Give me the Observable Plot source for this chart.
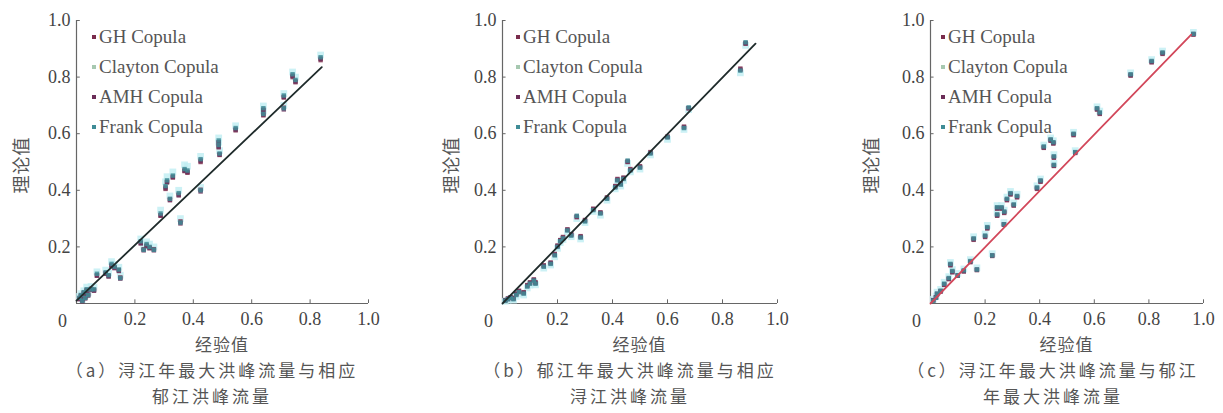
<!DOCTYPE html>
<html>
<head>
<meta charset="utf-8">
<script src="https://cdn.jsdelivr.net/npm/d3@7"></script>
<script src="https://cdn.jsdelivr.net/npm/@observablehq/plot@0.6"></script>
<style>
  html, body { margin: 0; padding: 0; background: #fff; }
  #root { position: relative; width: 1223px; height: 413px; overflow: hidden; }
  .panel { position: absolute; top: 0; }
  .lbl { position: absolute; transform: translate(-50%, -50%); white-space: nowrap; line-height: 1;
         font-family: "Noto Sans CJK SC", sans-serif; color: #555; font-size: 17px; letter-spacing: 1px; }
  .cap { letter-spacing: 3px; }
  .ylbl { transform: translate(-50%, -50%) rotate(-90deg); font-size: 18px; }
  .legend { position: absolute; font-family: "Liberation Serif", serif; font-size: 19px; color: #555; }
  .legend .row { height: 30px; line-height: 30px; display: flex; align-items: center; }
  .legend .sw { width: 4px; height: 4px; margin-right: 3px; display: inline-block; }
</style>
</head>
<body>
<div id="root"></div>
<script>
// ---------- data ----------
const seriesNames = ["GH Copula", "Clayton Copula", "AMH Copula", "Frank Copula"];
const seriesColors = ["#7a2c4c", "#a6c8b0", "#6b2d58", "#3f8c96"];
const tickValues = [0.2, 0.4, 0.6, 0.8, 1.0];

// Panel (a)
const xA = [0.01,0.015,0.02,0.025,0.03,0.035,0.04,0.05,0.06,0.07,0.1,0.11,0.12,0.13,0.145,0.15,0.22,0.23,0.24,0.25,0.265,0.288,0.305,0.31,0.32,0.33,0.35,0.356,0.37,0.38,0.425,0.425,0.487,0.487,0.49,0.545,0.64,0.64,0.71,0.71,0.74,0.75,0.836];
const ghA = [0.018,0.028,0.012,0.038,0.022,0.048,0.032,0.052,0.048,0.1,0.108,0.098,0.135,0.128,0.118,0.092,0.215,0.192,0.205,0.198,0.192,0.31,0.405,0.428,0.368,0.445,0.385,0.29,0.468,0.462,0.402,0.5,0.568,0.552,0.525,0.612,0.682,0.665,0.728,0.692,0.8,0.782,0.86];
const claytonA = [0.025,0.035,0.015,0.045,0.028,0.058,0.038,0.06,0.058,0.112,0.118,0.108,0.148,0.138,0.128,0.1,0.228,0.2,0.218,0.21,0.2,0.33,0.43,0.448,0.38,0.465,0.4,0.3,0.49,0.485,0.41,0.52,0.585,0.57,0.54,0.628,0.698,0.68,0.742,0.7,0.818,0.8,0.878];
const amhA = [0.015,0.025,0.008,0.035,0.018,0.045,0.028,0.048,0.045,0.098,0.105,0.095,0.132,0.125,0.115,0.088,0.212,0.188,0.202,0.195,0.188,0.312,0.41,0.43,0.365,0.448,0.382,0.283,0.47,0.465,0.396,0.505,0.57,0.555,0.527,0.615,0.685,0.668,0.73,0.686,0.805,0.785,0.865];
const frankA = [0.02,0.03,0.01,0.04,0.02,0.05,0.03,0.05,0.05,0.105,0.11,0.10,0.14,0.13,0.12,0.09,0.22,0.19,0.21,0.20,0.19,0.318,0.415,0.435,0.37,0.452,0.39,0.286,0.475,0.47,0.40,0.51,0.576,0.56,0.53,0.62,0.69,0.67,0.735,0.69,0.81,0.79,0.87];
const lineAx = [0, 0.84], lineAy = [0.01, 0.835];

// Panel (b)
const xB = [0.01,0.02,0.03,0.04,0.05,0.06,0.077,0.09,0.1,0.114,0.12,0.15,0.175,0.19,0.2,0.21,0.22,0.236,0.25,0.27,0.284,0.3,0.33,0.356,0.38,0.41,0.418,0.43,0.44,0.455,0.465,0.5,0.538,0.6,0.66,0.677,0.865,0.884];
const ghB = [0.012,0.018,0.022,0.02,0.035,0.045,0.04,0.065,0.075,0.085,0.075,0.135,0.145,0.175,0.205,0.224,0.235,0.262,0.245,0.305,0.238,0.295,0.335,0.322,0.375,0.415,0.44,0.425,0.445,0.5,0.475,0.485,0.535,0.59,0.625,0.69,0.83,0.918];
const claytonB = [0.008,0.012,0.018,0.012,0.025,0.035,0.03,0.055,0.065,0.076,0.066,0.125,0.136,0.165,0.195,0.215,0.226,0.252,0.236,0.3,0.228,0.286,0.325,0.312,0.365,0.405,0.43,0.415,0.435,0.495,0.465,0.475,0.525,0.58,0.615,0.685,0.815,0.912];
const amhB = [0.011,0.016,0.021,0.017,0.032,0.042,0.037,0.062,0.072,0.083,0.072,0.132,0.142,0.172,0.202,0.222,0.232,0.26,0.242,0.308,0.235,0.292,0.332,0.32,0.372,0.412,0.437,0.422,0.442,0.502,0.472,0.482,0.532,0.588,0.622,0.69,0.826,0.92];
const frankB = [0.01,0.015,0.02,0.015,0.03,0.04,0.035,0.06,0.07,0.081,0.07,0.13,0.14,0.17,0.2,0.22,0.23,0.258,0.24,0.31,0.233,0.29,0.33,0.318,0.37,0.41,0.435,0.42,0.44,0.505,0.47,0.48,0.53,0.587,0.62,0.693,0.823,0.923];
const lineBx = [0, 0.92], lineBy = [0, 0.918];

// Panel (c)
const xC = [0.01,0.02,0.024,0.037,0.05,0.067,0.073,0.08,0.1,0.122,0.146,0.158,0.17,0.2,0.208,0.226,0.244,0.244,0.26,0.269,0.27,0.28,0.293,0.305,0.317,0.39,0.403,0.415,0.44,0.45,0.452,0.452,0.524,0.53,0.61,0.62,0.733,0.81,0.85,0.963];
const ghC = [0.012,0.022,0.032,0.042,0.066,0.086,0.135,0.11,0.098,0.113,0.146,0.225,0.118,0.235,0.265,0.168,0.335,0.31,0.335,0.278,0.32,0.365,0.385,0.346,0.375,0.405,0.43,0.55,0.575,0.565,0.515,0.486,0.595,0.532,0.685,0.67,0.805,0.852,0.882,0.95];
const claytonC = [0.015,0.026,0.04,0.05,0.075,0.095,0.145,0.12,0.106,0.122,0.155,0.236,0.126,0.246,0.276,0.176,0.346,0.32,0.346,0.286,0.33,0.376,0.396,0.356,0.386,0.416,0.44,0.56,0.585,0.575,0.526,0.495,0.605,0.54,0.695,0.68,0.815,0.862,0.892,0.958];
const amhC = [0.011,0.021,0.034,0.044,0.068,0.088,0.138,0.113,0.1,0.115,0.148,0.228,0.12,0.238,0.268,0.17,0.338,0.313,0.338,0.28,0.323,0.368,0.388,0.348,0.378,0.408,0.433,0.552,0.578,0.568,0.518,0.488,0.598,0.534,0.688,0.673,0.808,0.855,0.885,0.952];
const frankC = [0.01,0.02,0.035,0.045,0.07,0.09,0.14,0.115,0.1,0.117,0.15,0.23,0.12,0.24,0.27,0.17,0.34,0.315,0.34,0.28,0.325,0.37,0.39,0.35,0.38,0.41,0.435,0.555,0.58,0.57,0.52,0.49,0.60,0.535,0.69,0.675,0.81,0.857,0.887,0.953];
const lineCx = [0, 0.955], lineCy = [0, 0.95];

const captionsA = ["（a）浔江年最大洪峰流量与相应", "郁江洪峰流量"];
const captionsB = ["（b）郁江年最大洪峰流量与相应", "浔江洪峰流量"];
const captionsC = ["（c）浔江年最大洪峰流量与郁江", "年最大洪峰流量"];
const xLabel = "经验值", yLabel = "理论值";

// ---------- drawing ----------
const root = document.getElementById("root");
const axisGray = "#666";
const textGray = "#444";

function panel(cfg) {
  const {left, marginLeft, plotW, xs, ys, lx, ly, lineColor, captions, capCenter, ylblX, legendOff} = cfg;
  const points = [];
  ys.forEach((arr, s) => arr.forEach((v, i) => points.push({x: xs[i], y: v, s: seriesNames[s]})));
  const line = lx.map((v, i) => ({x: v, y: ly[i]}));
  const marginTop = 20, plotH = 283, marginBottom = 30, marginRight = 14;
  const svg = Plot.plot({
    width: marginLeft + plotW + marginRight,
    height: marginTop + plotH + marginBottom,
    marginLeft, marginRight, marginTop, marginBottom,
    style: {fontFamily: "'Liberation Serif', serif", fontSize: "18px", color: textGray, background: "white"},
    x: {domain: [0, 1]},
    y: {domain: [0, 1]},
    color: {domain: seriesNames, range: seriesColors},
    marks: [
      Plot.axisX({ticks: tickValues, tickSize: 0, tickPadding: 9, tickFormat: d3.format(".1f"), label: null, fill: textGray}),
      Plot.axisY({ticks: tickValues, tickSize: 0, tickPadding: 6, tickFormat: d3.format(".1f"), label: null, fill: textGray}),
      Plot.ruleX(tickValues, {y1: 0, y2: 0.013, stroke: axisGray, strokeWidth: 1}),
      Plot.ruleY(tickValues, {x1: 0, x2: 0.013, stroke: axisGray, strokeWidth: 1}),
      Plot.ruleY([0], {x1: 0, x2: 1, stroke: axisGray, strokeWidth: 1.2}),
      Plot.ruleX([0], {y1: 0, y2: 1, stroke: axisGray, strokeWidth: 1.2}),
      Plot.text([0], {x: 0, y: 0, text: () => "0", dx: -14, dy: 18, fill: textGray}),
      Plot.dot(points.filter(d => d.s === "Clayton Copula"), {x: "x", y: "y", fill: "#bfeef2", r: 3.8, symbol: "square", fillOpacity: 0.8}),
      Plot.dot(points.filter(d => d.s !== "Clayton Copula"), {x: "x", y: "y", fill: "s", r: 2.5, symbol: "square", fillOpacity: 0.85}),
      Plot.line(line, {x: "x", y: "y", stroke: lineColor, strokeWidth: 1.8})
    ]
  });
  const wrap = document.createElement("div");
  wrap.className = "panel";
  wrap.style.left = left + "px";
  wrap.appendChild(svg);
  root.appendChild(wrap);

  const frameLeft = left + marginLeft;
  const cx = frameLeft + plotW / 2;
  // legend
  const lg = document.createElement("div");
  lg.className = "legend";
  lg.style.left = (frameLeft + legendOff) + "px";
  lg.style.top = "22px";
  seriesNames.forEach((n, i) => {
    const r = document.createElement("div");
    r.className = "row";
    const sw = document.createElement("span");
    sw.className = "sw";
    sw.style.background = seriesColors[i];
    r.appendChild(sw);
    r.appendChild(document.createTextNode(n));
    lg.appendChild(r);
  });
  root.appendChild(lg);
  // labels
  const addLabel = (text, x, y, cls) => {
    const d = document.createElement("div");
    d.className = "lbl " + (cls || "");
    d.textContent = text;
    d.style.left = x + "px";
    d.style.top = y + "px";
    root.appendChild(d);
  };
  addLabel(xLabel, cx, 343);
  addLabel(yLabel, ylblX, 165, "ylbl");
  addLabel(captions[0], capCenter, 369, "cap");
  addLabel(captions[1], capCenter, 395, "cap");
}

panel({left: 0, marginLeft: 76, plotW: 292, xs: xA, ys: [ghA, claytonA, amhA, frankA],
       lx: lineAx, ly: lineAy, lineColor: "#1f2b2b", captions: captionsA, capCenter: 212, ylblX: 20, legendOff: 16});
panel({left: 410, marginLeft: 92, plotW: 275, xs: xB, ys: [ghB, claytonB, amhB, frankB],
       lx: lineBx, ly: lineBy, lineColor: "#1f2b2b", captions: captionsB, capCenter: 630, ylblX: 450, legendOff: 14});
panel({left: 840, marginLeft: 90, plotW: 273, xs: xC, ys: [ghC, claytonC, amhC, frankC],
       lx: lineCx, ly: lineCy, lineColor: "#d2475a", captions: captionsC, capCenter: 1053, ylblX: 870, legendOff: 11});
</script>
</body>
</html>
